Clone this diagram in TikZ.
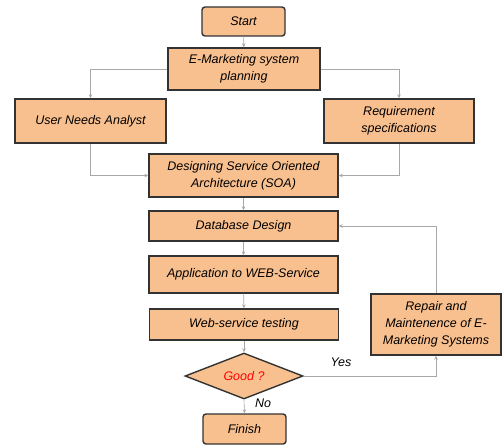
\documentclass[tikz,border=0pt]{standalone}
\usepackage{fontspec}
\setmainfont{Liberation Sans}
\usetikzlibrary{shapes.geometric,arrows.meta}
\definecolor{peach}{HTML}{F9C08F}
\definecolor{edge}{HTML}{333333}
\definecolor{conn}{HTML}{A8A8A8}
\tikzset{
  box/.style={draw=edge, line width=1.4pt, fill=peach, align=center, font=\itshape\fontsize{12.5}{17}\selectfont, inner sep=1pt},
  rbox/.style={box, rounded corners=3pt},
  dec/.style={draw=edge, line width=1.4pt, fill=peach, diamond, aspect=2.55, inner sep=0pt, font=\itshape\fontsize{12.5}{17}\selectfont, text=red},
  conn/.style={draw=conn, line width=0.6pt, -{Stealth[length=4pt,width=3.5pt]}},
  lab/.style={font=\itshape\fontsize{12.5}{15}\selectfont}
}
\begin{document}
\begin{tikzpicture}[x=1pt,y=-1pt]
\useasboundingbox (0,0) rectangle (502,444);
\node[rbox, minimum width=83pt, minimum height=29pt] (start) at (243.5,21.5) {Start};
\node[box, minimum width=152pt, minimum height=42pt] (plan) at (244,69) {E-Marketing system\\planning};
\node[box, minimum width=151pt, minimum height=44pt] (user) at (90.5,121) {User Needs Analyst};
\node[box, minimum width=150pt, minimum height=44pt] (req) at (399,121) {Requirement\\specifications};
\node[box, minimum width=189pt, minimum height=43pt] (soa) at (243.5,175.5) {Designing Service Oriented\\Architecture (SOA)};
\node[box, minimum width=189pt, minimum height=30pt] (db) at (243.5,226) {Database Design};
\node[box, minimum width=189pt, minimum height=37pt] (app) at (243.5,274.5) {Application to WEB-Service};
\node[box, minimum width=189pt, minimum height=31pt] (web) at (244,324.5) {Web-service testing};
\node[dec, minimum width=118pt, minimum height=46pt] (good) at (244,376) {Good ?};
\node[rbox, minimum width=83pt, minimum height=30pt] (finish) at (244.5,429) {Finish};
\node[box, minimum width=130pt, minimum height=61pt] (rep) at (436,324.5) {Repair and\\Maintenence of E-\\Marketing Systems};
\coordinate (ul) at (user.north |- plan.west);
\coordinate (ur) at (req.north |- plan.east);
\coordinate (bl) at (user.south |- soa.west);
\coordinate (br) at (req.south |- soa.east);
\coordinate (yr) at (rep.south |- good.east);
\coordinate (dr) at (rep.north |- db.east);
\draw[conn] (start) -- (plan);
\draw[conn] (plan.west) -- (ul) -- (user.north);
\draw[conn] (plan.east) -- (ur) -- (req.north);
\draw[conn] (user.south) -- (bl) -- (soa.west);
\draw[conn] (req.south) -- (br) -- (soa.east);
\draw[conn] (soa) -- (db);
\draw[conn] (db) -- (app);
\draw[conn] (app) -- (web);
\draw[conn] (web) -- (good);
\draw[conn] (good.south) -- (finish.north);
\draw[conn] (good.east) -- (yr) -- (rep.south);
\draw[conn] (rep.north) -- (dr) -- (db.east);
\node[lab] (yes) at (341,362) {Yes};
\node[lab] (no) at (263,403) {No};
\end{tikzpicture}
\end{document}
